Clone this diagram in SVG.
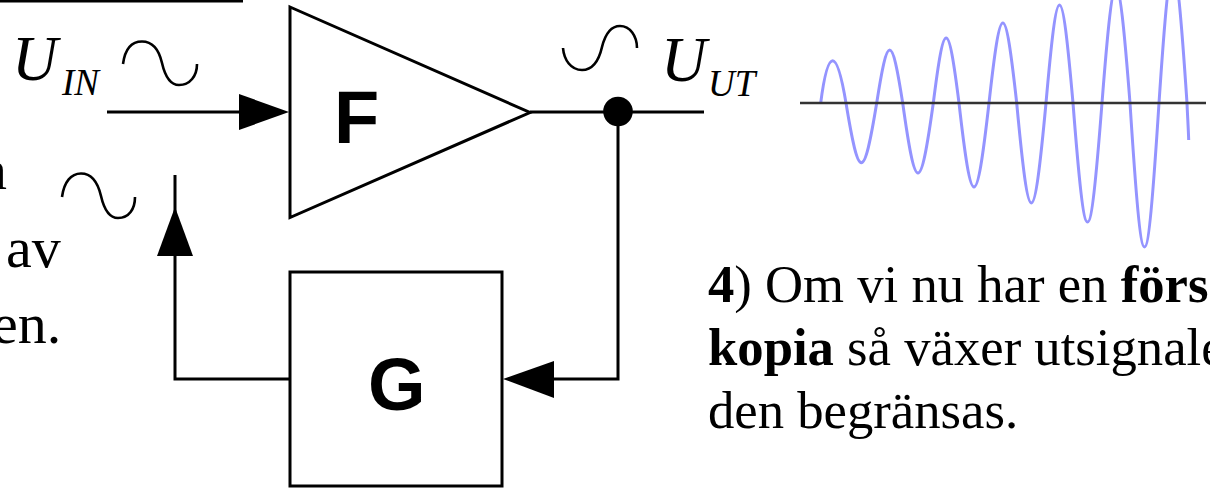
<svg xmlns="http://www.w3.org/2000/svg" width="1210" height="491" viewBox="0 0 1210 491">
<style>
.ln{fill:none;stroke:#000;stroke-width:3}
.sine{fill:none;stroke:#000;stroke-width:2.6}
.ah{fill:#000;stroke:none}
.t{font-family:"Liberation Serif",serif;font-size:52.700px;fill:#000}
.l{font-family:"Liberation Serif",serif;font-size:58px;fill:#000}
.u{font-family:"Liberation Serif",serif;font-style:italic;fill:#000}
.b{font-family:"Liberation Sans",sans-serif;font-weight:bold;font-size:74px;fill:#000}
</style>
<rect width="1210" height="491" fill="#fff"/>
<g id="wave">
<path d="M820.7 103C823 85 827 60.7 832.7 60.7C838 60.7 843 85 846 103C859 182.6 863.7 182.6 876.7 103C887.7 32.3 891.7 32.3 902.7 103C915.7 196.3 920.3 196.3 933.3 103C944.2 16.3 948.1 16.3 959 103C971.7 215 976.3 215 989 103C1000.8 -3.7 1004.9 -3.7 1016.7 103C1029.1 236.3 1033.6 236.3 1046 103C1057.5 -27.7 1061.5 -27.7 1073 103C1085.3 261.7 1089.7 261.7 1102 103C1113.9 -50.3 1118.1 -50.3 1130 103C1142.3 295 1146.7 295 1159 103C1170.9 -74.3 1175.1 -74.3 1187 103C1187.5 115 1188.3 128 1188.7 140" fill="none" stroke="#9494ff" stroke-width="3"/>
<line x1="800" y1="103" x2="1206" y2="103" stroke="#333" stroke-width="2.4"/>
</g>
<g id="connectors">
<line class="ln" x1="0" y1="1" x2="243" y2="1"/>
<line class="ln" x1="107" y1="112" x2="245" y2="112"/>
<polygon class="ah" points="239,94 289,112 239,130"/>
<polyline class="ln" points="530,112 704,112"/>
<circle cx="618" cy="111.500" r="14.800" fill="#000"/>
<polyline class="ln" points="618,112 618,379 550,379"/>
<polygon class="ah" points="503,379 554,361 554,398"/>
<polyline class="ln" points="290,379 175,379 175,175"/>
<polygon class="ah" points="175,207 157,256 193,256"/>
</g>
<g id="sine-in"><path class="sine" d="M123 64C125 49 132 41.500 142 41.500C153 41.500 159 50 162 63C165 76 170 85 179 85C190 85 197 76 197 64"/></g>
<g id="sine-fb"><path class="sine" d="M62 197C64 182 71 173.500 81 173.500C92 173.500 98 183 101 196C104 209 109 218 118 218C129 218 135 209 135 197"/></g>
<g id="sine-out"><path class="sine" d="M563 48C564 60 571 70 582 70C593 70 599 60 602 47C605 35 610 26 620 26C630 26 637 36 637 48"/></g>
<g id="amp-F">
<polygon points="290,7 530,112.500 290,217.500" fill="#fff" stroke="#000" stroke-width="3"/>
<text class="b" x="334" y="143">F</text>
</g>
<g id="box-G">
<rect x="290" y="272" width="212" height="214" fill="#fff" stroke="#000" stroke-width="3"/>
<text class="b" x="368" y="410">G</text>
</g>
<g id="label-uin">
<text class="u" x="12" y="80" font-size="63">U</text>
<text class="u" x="62" y="95" font-size="37">IN</text>
</g>
<g id="label-uut">
<text class="u" x="661" y="81" font-size="63">U</text>
<text class="u" x="708" y="96" font-size="37">UT</text>
</g>
<g id="text-left">
<text class="l" x="-22" y="189">n</text>
<text class="l" x="6" y="267">av</text>
<text class="l" x="-8" y="343">en.</text>
</g>
<g id="text-right">
<text class="t" x="708" y="302"><tspan font-weight="bold">4</tspan>) Om vi nu har en <tspan font-weight="bold">förs</tspan></text>
<text class="t" x="708" y="365"><tspan font-weight="bold">kopia</tspan> så växer utsignale</text>
<text class="t" x="708" y="428">den begränsas.</text>
</g>
</svg>
